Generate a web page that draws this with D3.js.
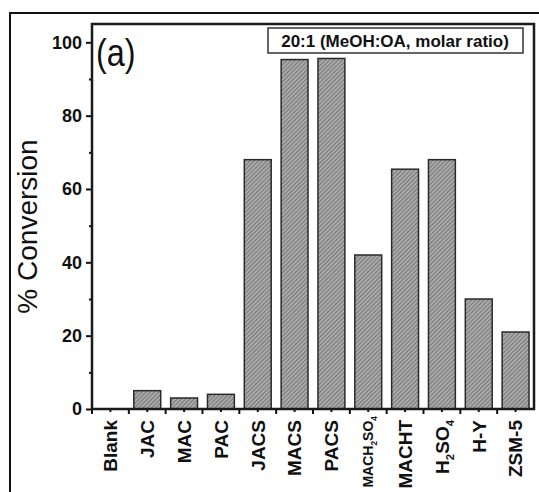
<!DOCTYPE html>
<html>
<head>
<meta charset="utf-8">
<script src="https://cdn.jsdelivr.net/npm/d3@7"></script>
<style>
  body { margin: 0; background: #fff; }
  svg text { font-family: "Liberation Sans", Arial, Helvetica, sans-serif; fill: #111; }
</style>
</head>
<body>
<svg id="chart" width="539" height="492"></svg>
<script>
// Catalyst screening: methyl oleate conversion, 20:1 MeOH:OA
const categories = ["Blank", "JAC", "MAC", "PAC", "JACS", "MACS", "PACS", "MACH2SO4", "MACHT", "H2SO4", "H-Y", "ZSM-5"];
const conversion = [0, 5, 3, 4, 68, 95.3, 95.6, 42, 65.4, 68, 30, 21];
const yTicks = [0, 20, 40, 60, 80, 100];
const yMinorTicks = [10, 30, 50, 70, 90];
// Category names written with chemical subscripts: [text, subscript?]
const formulaLabels = {
  "MACH2SO4": [["MACH", false], ["2", true], ["SO", false], ["4", true]],
  "H2SO4": [["H", false], ["2", true], ["SO", false], ["4", true]]
};
const panelLabel = "(a)";
const conditionLabel = "20:1 (MeOH:OA, molar ratio)";
const yTitle = "% Conversion";

const svg = d3.select("#chart");
const plot = { left: 92, right: 534, top: 24, bottom: 409 };

const x = d3.scaleBand()
  .domain(categories)
  .range([plot.left, plot.right])
  .paddingInner(0.27)
  .paddingOuter(0.135);

const y = d3.scaleLinear()
  .domain([0, 105])
  .range([plot.bottom, plot.top]);

// hatched grey fill used by every bar
const defs = svg.append("defs");
const hatch = defs.append("pattern")
  .attr("id", "hatch")
  .attr("patternUnits", "userSpaceOnUse")
  .attr("width", 3)
  .attr("height", 3)
  .attr("patternTransform", "rotate(45)");
hatch.append("rect").attr("width", 3).attr("height", 3).attr("fill", "#787878");
hatch.append("line").attr("x1", 1).attr("y1", 0).attr("x2", 1).attr("y2", 3)
  .attr("stroke", "#cbcbcb").attr("stroke-width", 1.2);

// outer figure frame (left and top edges)
svg.append("path")
  .attr("d", "M10,492 V13 H539")
  .attr("fill", "none")
  .attr("stroke", "#111")
  .attr("stroke-width", 2);

// bars
svg.append("g")
  .selectAll("rect")
  .data(categories.map((c, i) => ({ c, v: conversion[i] })).filter(d => d.v > 0))
  .join("rect")
  .attr("x", d => x(d.c))
  .attr("y", d => y(d.v))
  .attr("width", x.bandwidth())
  .attr("height", d => y(0) - y(d.v))
  .attr("fill", "url(#hatch)")
  .attr("stroke", "#2a2a2a")
  .attr("stroke-width", 1.5);

// y axis: major ticks with labels, then minor ticks
const yAxis = svg.append("g")
  .attr("transform", `translate(${plot.left},0)`)
  .call(d3.axisLeft(y).tickValues(yTicks).tickSize(6).tickPadding(4));
yAxis.select(".domain").remove();
yAxis.selectAll(".tick line").attr("stroke", "#111").attr("stroke-width", 2);
yAxis.selectAll(".tick text")
  .style("font-size", "18px")
  .style("font-weight", "bold")
  .attr("fill", "#111");

const yMinor = svg.append("g")
  .attr("transform", `translate(${plot.left},0)`)
  .call(d3.axisLeft(y).tickValues(yMinorTicks).tickSize(3).tickFormat(""));
yMinor.select(".domain").remove();
yMinor.selectAll(".tick line").attr("stroke", "#111").attr("stroke-width", 2);

// x axis: short ticks at bar centres, longer ticks between categories
const xAxis = svg.append("g")
  .attr("transform", `translate(0,${plot.bottom})`)
  .call(d3.axisBottom(x).tickSize(3).tickPadding(12));
xAxis.select(".domain").remove();
xAxis.selectAll(".tick line").attr("stroke", "#111").attr("stroke-width", 2);

const gap = (x.step() - x.bandwidth()) / 2;
xAxis.append("g")
  .selectAll("line")
  .data(categories)
  .join("line")
  .attr("x1", d => x(d) - gap)
  .attr("x2", d => x(d) - gap)
  .attr("y1", 0)
  .attr("y2", 5)
  .attr("stroke", "#111")
  .attr("stroke-width", 2);

xAxis.selectAll(".tick text")
  .style("font-size", "19px")
  .style("font-weight", "bold")
  .attr("fill", "#111")
  .attr("text-anchor", "end")
  .attr("transform", "rotate(-90)")
  .attr("x", -11)
  .attr("y", 0)
  .attr("dy", "0.36em")
  .each(function (d) {
    const parts = formulaLabels[d];
    if (!parts) return;
    const t = d3.select(this).text("");
    if (d === "MACH2SO4") t.style("font-size", "14px").attr("x", -7);
    parts.forEach(([s, sub]) => {
      t.append("tspan")
        .text(s)
        .attr("baseline-shift", sub ? "-45%" : null)
        .style("font-size", sub ? "0.6em" : null);
    });
  });

// plot frame
svg.append("rect")
  .attr("x", plot.left)
  .attr("y", plot.top)
  .attr("width", plot.right - plot.left)
  .attr("height", plot.bottom - plot.top)
  .attr("fill", "none")
  .attr("stroke", "#1a1a1a")
  .attr("stroke-width", 2.5);

// y title
svg.append("text")
  .attr("transform", `translate(37,${(plot.top + plot.bottom) / 2 + 10}) rotate(-90)`)
  .attr("text-anchor", "middle")
  .style("font-size", "28px")
  .text(yTitle);

// panel label
svg.append("text")
  .attr("transform", "translate(96,66) scale(0.9,1.08)")
  .style("font-size", "36px")
  .text(panelLabel);

// condition box
svg.append("rect")
  .attr("x", 268)
  .attr("y", 28)
  .attr("width", 255)
  .attr("height", 25)
  .attr("fill", "#fff")
  .attr("stroke", "#333")
  .attr("stroke-width", 1.5);
svg.append("text")
  .attr("x", 395)
  .attr("y", 47)
  .attr("text-anchor", "middle")
  .style("font-size", "17px")
  .style("font-weight", "bold")
  .text(conditionLabel);
</script>
</body>
</html>
